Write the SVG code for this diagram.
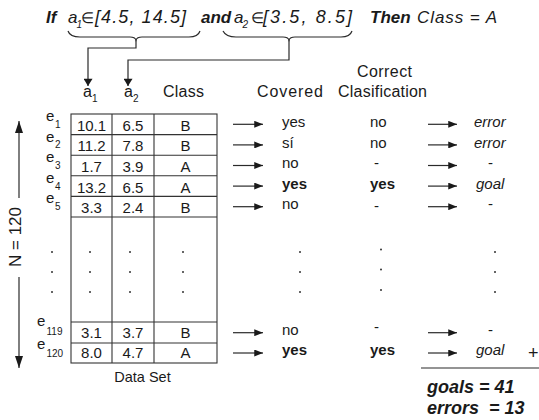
<svg xmlns="http://www.w3.org/2000/svg" width="539" height="420" viewBox="0 0 539 420">
<defs>
<style>
text{font-family:"Liberation Sans",Arial,sans-serif;fill:#1a1a1a}
.t{font-size:17px}
.el{font-size:15px}
.bi{font-weight:bold;font-style:italic}
.it{font-style:italic}
.h{font-size:16px}
.c{font-size:15px;text-anchor:middle}
.r{font-size:15px}
.b{font-weight:bold}
.sub{font-size:10px}
.tsub{font-size:10px}
.ln{stroke:#2a2a2a;stroke-width:1.2;fill:none}
.grid{stroke:#333;stroke-width:1.1;fill:none}
.dot{fill:#333}
</style>
<marker id="ah" viewBox="0 0 10 8" refX="10" refY="4" markerWidth="10" markerHeight="7" markerUnits="userSpaceOnUse" orient="auto"><path d="M0,0 L10,4 L0,8 Z" fill="#1a1a1a"/></marker>
<marker id="ahv" viewBox="0 0 8 10" refX="8" refY="5" markerWidth="8" markerHeight="9" markerUnits="userSpaceOnUse" orient="auto"><path d="M0,0 L8,5 L0,10 Z" fill="#1a1a1a"/></marker>
<marker id="ahn" viewBox="0 0 12 8" refX="12" refY="4" markerWidth="12" markerHeight="8" markerUnits="userSpaceOnUse" orient="auto"><path d="M0,0 L12,4 L0,8 Z" fill="#1a1a1a"/></marker>
</defs>
<rect width="539" height="420" fill="#fff"/>

<g id="rule">
<text class="t bi" x="46" y="23">If</text>
<text class="t it" x="68" y="23">a</text>
<text class="tsub it" x="76.5" y="28">1</text>
<text class="el" x="81" y="23">∈</text>
<text class="it" x="95" y="23" style="font-size:18px" textLength="91" lengthAdjust="spacing">[4.5, 14.5]</text>
<text class="t bi" x="201" y="23">and</text>
<text class="t it" x="234" y="23">a</text>
<text class="tsub it" x="242.5" y="28">2</text>
<text class="el" x="251" y="23">∈</text>
<text class="it" x="263" y="23" style="font-size:18px" textLength="89" lengthAdjust="spacing">[3.5, 8.5]</text>
<text class="t bi" x="370" y="23">Then</text>
<text class="t it" x="417" y="23" textLength="80" lengthAdjust="spacing">Class = A</text>
</g>

<g id="brace1"><path class="ln" d="M68,31 Q70,37 80,37 L130,37 Q135,37 136,40 Q137,37 142,37 L189,37 Q198,37 200,31"/></g>
<g id="brace2"><path class="ln" d="M223,31 Q226,37 236,37 L283,37 Q288,37 289,40 Q290,37 295,37 L341,37 Q350,37 352,31"/></g>

<g id="headers">
<text class="h" x="83" y="96.5">a</text><text class="sub" x="92" y="101.5">1</text>
<text class="h" x="124" y="96.5">a</text><text class="sub" x="133" y="101.5">2</text>
<text class="h" x="163" y="96.5" textLength="41" lengthAdjust="spacing">Class</text>
<text class="h" x="257" y="96.5" textLength="66" lengthAdjust="spacing">Covered</text>
<text class="h" x="357" y="77" textLength="55" lengthAdjust="spacing">Correct</text>
<text class="h" x="338" y="96.5" textLength="89" lengthAdjust="spacing">Clasification</text>
</g>

<g id="count">
<text text-anchor="middle" transform="translate(20.5,237) rotate(-90)" style="font-size:17px">N = 120</text>
</g>

<g id="examples">
<text class="r" x="46" y="121">e</text><text class="sub" x="55" y="127.7">1</text>
<text class="r" x="46" y="141.6">e</text><text class="sub" x="55" y="148.3">2</text>
<text class="r" x="46" y="162.2">e</text><text class="sub" x="55" y="168.9">3</text>
<text class="r" x="46" y="182.8">e</text><text class="sub" x="55" y="189.5">4</text>
<text class="r" x="46" y="203.4">e</text><text class="sub" x="55" y="210.1">5</text>
<text class="r" x="37" y="326">e</text><text class="sub" x="46.5" y="334.5">119</text>
<text class="r" x="37" y="349.3">e</text><text class="sub" x="46.5" y="357">120</text>
</g>

<g id="dataset">
<rect class="grid" x="71" y="114" width="146" height="249"/>
<path class="grid" d="M112,114V363M154,114V363M71,134.6H217M71,155.2H217M71,175.8H217M71,196.4H217M71,217H217M71,322H217M71,343H217"/>
<text class="c" x="91.5" y="130.7">10.1</text><text class="c" x="133" y="130.7">6.5</text><text class="c" x="185.5" y="130.7">B</text>
<text class="c" x="91.5" y="151.3">11.2</text><text class="c" x="133" y="151.3">7.8</text><text class="c" x="185.5" y="151.3">B</text>
<text class="c" x="91.5" y="171.9">1.7</text><text class="c" x="133" y="171.9">3.9</text><text class="c" x="185.5" y="171.9">A</text>
<text class="c" x="91.5" y="192.5">13.2</text><text class="c" x="133" y="192.5">6.5</text><text class="c" x="185.5" y="192.5">A</text>
<text class="c" x="91.5" y="213.1">3.3</text><text class="c" x="133" y="213.1">2.4</text><text class="c" x="185.5" y="213.1">B</text>
<text class="c" x="91.5" y="337.5">3.1</text><text class="c" x="133" y="337.5">3.7</text><text class="c" x="185.5" y="337.5">B</text>
<text class="c" x="91.5" y="358">8.0</text><text class="c" x="133" y="358">4.7</text><text class="c" x="185.5" y="358">A</text>
<text x="142.5" y="382" style="font-size:14.5px;text-anchor:middle">Data Set</text>
</g>

<g id="ellipsis">
<circle class="dot" cx="52" cy="252" r="1"/><circle class="dot" cx="52" cy="272" r="1"/><circle class="dot" cx="52" cy="292" r="1"/>
<circle class="dot" cx="90" cy="252" r="1"/><circle class="dot" cx="90" cy="272" r="1"/><circle class="dot" cx="90" cy="292" r="1"/>
<circle class="dot" cx="130" cy="252" r="1"/><circle class="dot" cx="130" cy="272" r="1"/><circle class="dot" cx="130" cy="292" r="1"/>
<circle class="dot" cx="183" cy="252" r="1"/><circle class="dot" cx="183" cy="272" r="1"/><circle class="dot" cx="183" cy="292" r="1"/>
<circle class="dot" cx="300" cy="252" r="1"/><circle class="dot" cx="300" cy="272" r="1"/><circle class="dot" cx="300" cy="292" r="1"/>
<circle class="dot" cx="381" cy="249.5" r="1"/><circle class="dot" cx="381" cy="269.5" r="1"/><circle class="dot" cx="381" cy="290" r="1"/>
<circle class="dot" cx="495" cy="252" r="1"/><circle class="dot" cx="495" cy="272" r="1"/><circle class="dot" cx="495" cy="292" r="1"/>
</g>

<g id="covered">
<text class="r" x="282" y="127">yes</text>
<text class="r" x="282" y="147.6">sí</text>
<text class="r" x="282" y="168.2">no</text>
<text class="r b" x="282" y="188.8">yes</text>
<text class="r" x="282" y="209.4">no</text>
<text class="r" x="282" y="335">no</text>
<text class="r b" x="282" y="355">yes</text>
</g>

<g id="correct">
<text class="r" x="370" y="127">no</text>
<text class="r" x="370" y="147.6">no</text>
<text class="r" x="374" y="168.2">-</text>
<text class="r b" x="370" y="188.8">yes</text>
<text class="r" x="374" y="211">-</text>
<text class="r" x="374" y="331.5">-</text>
<text class="r b" x="370" y="355">yes</text>
</g>

<g id="outcome">
<text class="r it" x="474" y="127">error</text>
<text class="r it" x="474" y="147.6">error</text>
<text class="r" x="488" y="168.2">-</text>
<text class="r it" x="476" y="188.8">goal</text>
<text class="r" x="488" y="209.4">-</text>
<text class="r" x="488" y="335">-</text>
<text class="r it" x="476" y="355">goal</text>
<text x="528" y="359" style="font-size:18px">+</text>
</g>

<g id="totals">
<text class="bi" x="427" y="393" style="font-size:18px">goals = 41</text>
<text class="bi" x="427" y="414" style="font-size:18px" xml:space="preserve">errors  = 13</text>
</g>

<g id="connectors">
<path class="ln" d="M136,40 V48 H88 V86" marker-end="url(#ahv)"/>
<path class="ln" d="M289,40 V60 H128 V86" marker-end="url(#ahv)"/>
<path class="ln" d="M19,198 V121" marker-end="url(#ahn)"/>
<path class="ln" d="M19,277 V368" marker-end="url(#ahn)"/>
<g class="ln" marker-end="url(#ah)">
<line x1="233" y1="124.3" x2="263" y2="124.3"/>
<line x1="233" y1="144.9" x2="263" y2="144.9"/>
<line x1="233" y1="165.5" x2="263" y2="165.5"/>
<line x1="233" y1="186.1" x2="263" y2="186.1"/>
<line x1="233" y1="206.7" x2="263" y2="206.7"/>
<line x1="233" y1="332.7" x2="263" y2="332.7"/>
<line x1="233" y1="353" x2="263" y2="353"/>
<line x1="428" y1="124.3" x2="457" y2="124.3"/>
<line x1="428" y1="144.9" x2="457" y2="144.9"/>
<line x1="428" y1="165.5" x2="457" y2="165.5"/>
<line x1="428" y1="186.1" x2="457" y2="186.1"/>
<line x1="428" y1="206.7" x2="457" y2="206.7"/>
<line x1="428" y1="332.7" x2="457" y2="332.7"/>
<line x1="428" y1="353" x2="457" y2="353"/>
</g>
<line class="ln" x1="421" y1="368" x2="539" y2="368"/>
</g>
</svg>
